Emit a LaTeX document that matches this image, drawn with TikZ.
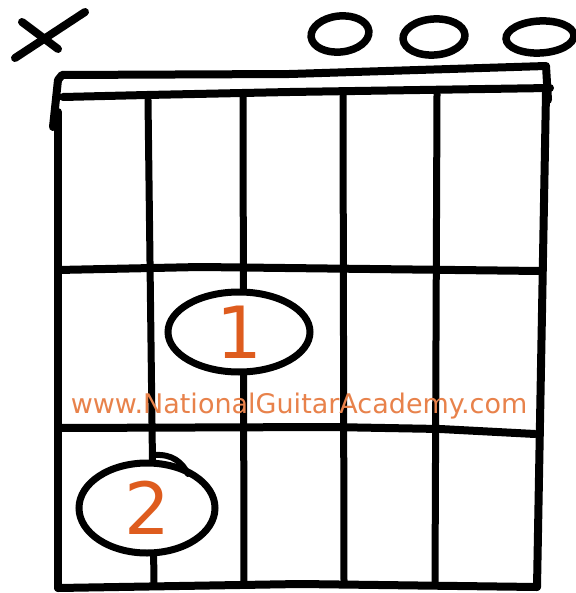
\documentclass[tikz,border=0pt]{standalone}
\usepackage{fontspec}
\newfontfamily\dejavu{DejaVu Sans}
\usetikzlibrary{shapes.geometric}
\definecolor{fingerorange}{RGB}{222,92,30}
\definecolor{markorange}{RGB}{232,130,75}
\tikzset{
  ink/.style={draw=black, line width=8pt, line cap=round, line join=round},
  stringline/.style={draw=black, line width=7pt, line cap=round},
  openmark/.style={ellipse, draw=black, line width=7.5pt, inner sep=0pt},
  fingerdot/.style={ellipse, draw=black, fill=white, line width=7pt, inner sep=0pt,
    text=fingerorange, font=\dejavu\fontsize{72}{72}\selectfont},
  watermark/.style={text=markorange, font=\dejavu\fontsize{27}{27}\selectfont, inner sep=0pt}
}
\begin{document}
\begin{tikzpicture}[x=1pt,y=-1pt]
\useasboundingbox[fill=white] (0,0) rectangle (575,593);
% mute mark
\coordinate (xa1) at (15,58); \coordinate (xa2) at (85,12);
\coordinate (xb1) at (22,22); \coordinate (xb2) at (58,49);
\draw[ink] (xa1) -- (xa2);
\draw[ink] (xb1) -- (xb2);
% open string marks
\node[openmark, minimum width=58pt, minimum height=36pt, rotate=6] (o4) at (340,34) {};
\node[openmark, minimum width=62pt, minimum height=36pt, rotate=4] (o5) at (434,37) {};
\node[openmark, minimum width=68pt, minimum height=32pt, rotate=3] (o6) at (540,37) {};
% strings
\draw[stringline] (148,100) -- (154,585);
\draw[stringline] (243,97) -- (244,585);
\draw[stringline] (343,95) -- (344,583);
\draw[stringline] (437,94) -- (435,583);
% frame
\draw[ink] (53,127) -- (58,80) -- (62,75) -- (290,74) -- (546,66) -- (548,100);
\draw[ink] (63,97) -- (147,95) -- (290,92) -- (550,88);
\draw[ink] (58,112) -- (58,588);
\draw[ink] (546,92) -- (537,587);
\draw[ink] (58,588) -- (300,584) -- (537,587);
% frets
\draw[ink] (58,270) -- (200,267) -- (540,271);
\draw[ink] (58,428) -- (330,427) -- (440,429) -- (535,434);
% fingers
\node[fingerdot, minimum width=142pt, minimum height=80pt] (f1) at (239,332) {1};
\node[fingerdot, minimum width=136pt, minimum height=90pt] (f2) at (147,508) {2};
\draw[black, line width=6pt, line cap=round] (155,455) .. controls (172,454) and (182,462) .. (188,474);
% watermark
\node[watermark] (wm) at (299,406) {www.NationalGuitarAcademy.com};
\end{tikzpicture}
\end{document}
